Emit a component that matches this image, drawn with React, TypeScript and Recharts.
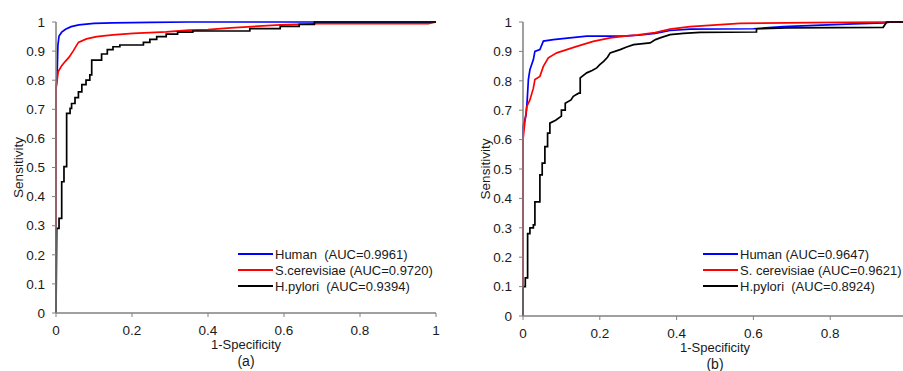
import React from "react";
import { Label, Legend, Line, LineChart, XAxis, YAxis } from "recharts";

// ROC points: [1-specificity, sensitivity]
const humanA = [
  [0, 0], [0, 0.77], [0.003, 0.82], [0.005, 0.92], [0.008, 0.952], [0.015, 0.965],
  [0.025, 0.975], [0.04, 0.984], [0.06, 0.99], [0.1, 0.995], [0.15, 0.997],
  [0.25, 0.999], [0.35, 1], [1, 1],
];
const scerA = [
  [0, 0], [0, 0.77], [0.006, 0.83], [0.015, 0.85], [0.024, 0.864], [0.035, 0.88],
  [0.045, 0.9], [0.059, 0.93], [0.08, 0.942], [0.107, 0.95], [0.15, 0.956],
  [0.203, 0.961], [0.29, 0.966], [0.35, 0.972], [0.4, 0.974], [0.46, 0.98],
  [0.59, 0.99], [0.68, 0.994], [0.98, 0.994], [1, 1],
];
const pyloriA = [
  [0, 0], [0.002, 0.291], [0.008, 0.291], [0.008, 0.325], [0.015, 0.325],
  [0.015, 0.451], [0.021, 0.451], [0.021, 0.503], [0.028, 0.503], [0.028, 0.686],
  [0.037, 0.686], [0.037, 0.703], [0.041, 0.703], [0.041, 0.72], [0.05, 0.72],
  [0.05, 0.74], [0.059, 0.74], [0.059, 0.76], [0.068, 0.76], [0.068, 0.785],
  [0.079, 0.785], [0.079, 0.8], [0.089, 0.8], [0.089, 0.818], [0.094, 0.818],
  [0.094, 0.869], [0.12, 0.869], [0.12, 0.89], [0.135, 0.89], [0.135, 0.905],
  [0.15, 0.905], [0.15, 0.915], [0.168, 0.915], [0.168, 0.921], [0.23, 0.921],
  [0.23, 0.93], [0.247, 0.93], [0.247, 0.94], [0.265, 0.94], [0.265, 0.95],
  [0.29, 0.95], [0.29, 0.958], [0.32, 0.958], [0.32, 0.965], [0.36, 0.965],
  [0.36, 0.969], [0.51, 0.969], [0.51, 0.977], [0.59, 0.977], [0.59, 0.985],
  [0.64, 0.985], [0.64, 0.992], [0.68, 0.992], [0.68, 1], [1, 1],
];

const humanB = [
  [0, 0], [0, 0.644], [0.008, 0.684], [0.011, 0.735], [0.014, 0.804], [0.018, 0.838],
  [0.027, 0.872], [0.031, 0.9], [0.044, 0.906], [0.053, 0.935], [0.079, 0.94],
  [0.122, 0.946], [0.166, 0.952], [0.227, 0.952], [0.27, 0.953], [0.3, 0.955],
  [0.344, 0.961], [0.383, 0.971], [0.435, 0.976], [0.6, 0.977], [0.677, 0.984],
  [0.843, 0.993], [0.94, 0.997], [0.96, 1], [1, 1],
];
const scerB = [
  [0, 0], [0, 0.6], [0.005, 0.66], [0.01, 0.713], [0.018, 0.735], [0.027, 0.775],
  [0.031, 0.804], [0.044, 0.815], [0.053, 0.849], [0.066, 0.878], [0.088, 0.895],
  [0.114, 0.906], [0.14, 0.917], [0.183, 0.934], [0.227, 0.946], [0.27, 0.953],
  [0.3, 0.956], [0.344, 0.964], [0.383, 0.976], [0.435, 0.984], [0.565, 0.995],
  [0.747, 0.998], [0.947, 1], [1, 1],
];
const pyloriB = [
  [0, 0], [0, 0.1], [0.006, 0.1], [0.006, 0.13], [0.012, 0.13], [0.012, 0.28],
  [0.018, 0.28], [0.018, 0.3], [0.027, 0.3], [0.027, 0.31], [0.031, 0.31],
  [0.031, 0.388], [0.044, 0.388], [0.044, 0.48], [0.05, 0.48], [0.05, 0.52],
  [0.057, 0.52], [0.057, 0.576], [0.064, 0.576], [0.064, 0.622], [0.07, 0.622],
  [0.07, 0.656], [0.085, 0.666], [0.1, 0.68], [0.1, 0.7], [0.11, 0.7], [0.11, 0.724],
  [0.125, 0.735], [0.131, 0.747], [0.145, 0.758], [0.149, 0.758], [0.149, 0.81],
  [0.166, 0.827], [0.18, 0.835], [0.192, 0.844], [0.2, 0.855], [0.21, 0.866],
  [0.22, 0.88], [0.227, 0.895], [0.253, 0.906], [0.27, 0.915], [0.288, 0.923],
  [0.331, 0.929], [0.345, 0.94], [0.357, 0.946], [0.383, 0.957], [0.418, 0.961],
  [0.461, 0.965], [0.608, 0.966], [0.608, 0.977], [0.687, 0.98], [0.938, 0.982],
  [0.947, 1], [1, 1],
];

const xTicks = [0, 0.2, 0.4, 0.6, 0.8, 1];
const yTicks = [0, 0.1, 0.2, 0.3, 0.4, 0.5, 0.6, 0.7, 0.8, 0.9, 1];

const legendA = ["Human  (AUC=0.9961)", "S.cerevisiae (AUC=0.9720)", "H.pylori  (AUC=0.9394)"];
const legendB = ["Human (AUC=0.9647)", "S. cerevisiae (AUC=0.9621)", "H.pylori  (AUC=0.8924)"];
const colors = ["#0000ff", "#ff0000", "#000000"];

const font = '"Liberation Sans", Arial, sans-serif';
const axisGray = "#808080";
const ink = "#1a1a1a";
const tickStyle = { fontSize: 13.5, fill: ink, fontFamily: font };

const toPts = (arr: number[][]) => arr.map(([x, y]) => ({ x, y }));

function LegendBox({ labels }: { labels: string[] }) {
  return (
    <div style={{ fontFamily: font, fontSize: 13, color: ink }}>
      {labels.map((l, i) => (
        <div key={l} style={{ display: "flex", alignItems: "center", height: 16 }}>
          <span style={{ width: 35, height: 2, background: colors[i], marginRight: 2 }} />
          <span style={{ whiteSpace: "pre" }}>{l}</span>
        </div>
      ))}
    </div>
  );
}

function RocPanel({
  series,
  labels,
  tag,
  margin,
  legendPos,
}: {
  series: number[][][];
  labels: string[];
  tag: string;
  margin: { top: number; right: number; bottom: number; left: number };
  legendPos: { left: number; top: number };
}) {
  return (
    <LineChart width={460} height={371} margin={margin}>
      <XAxis
        type="number"
        dataKey="x"
        domain={[0, 1]}
        ticks={xTicks}
        height={30}
        tick={tickStyle}
        tickSize={4}
        tickMargin={8}
        axisLine={{ stroke: axisGray, strokeWidth: 1.5 }}
        tickLine={{ stroke: axisGray }}
      >
        <Label value="1-Specificity" position="insideBottom" offset={-6} style={{ fontSize: 13, fill: ink, fontFamily: font }} />
        <Label value={tag} position="bottom" offset={13} style={{ fontSize: 14, fill: ink, fontFamily: font }} />
      </XAxis>
      <YAxis
        type="number"
        domain={[0, 1]}
        ticks={yTicks}
        width={46}
        tick={tickStyle}
        tickSize={4}
        tickMargin={7}
        axisLine={{ stroke: axisGray, strokeWidth: 1.5 }}
        tickLine={{ stroke: axisGray }}
      >
        <Label
          value="Sensitivity"
          angle={-90}
          position="insideLeft"
          offset={8}
          style={{ textAnchor: "middle", fontSize: 13.5, fill: ink, fontFamily: font }}
        />
      </YAxis>
      <Legend
        layout="vertical"
        align="center"
        verticalAlign="middle"
        wrapperStyle={{ left: legendPos.left, top: legendPos.top, width: "auto" }}
        content={() => <LegendBox labels={labels} />}
      />
      {series.map((s, i) => (
        <Line
          key={labels[i]}
          data={toPts(s)}
          dataKey="y"
          type="linear"
          stroke={colors[i]}
          strokeWidth={1.7}
          dot={false}
          isAnimationActive={false}
        />
      ))}
    </LineChart>
  );
}

export default function App() {
  return (
    <div style={{ position: "absolute", left: 0, top: 0, width: 903, height: 371, overflow: "hidden", background: "#fff" }}>
      <div style={{ position: "absolute", left: 0, top: 0 }}>
        <RocPanel
          series={[humanA, scerA, pyloriA]}
          labels={legendA}
          tag="(a)"
          margin={{ top: 22, right: 24, bottom: 28, left: 10 }}
          legendPos={{ left: 238, top: 246 }}
        />
      </div>
      <div style={{ position: "absolute", left: 470, top: 0 }}>
        <RocPanel
          series={[humanB, scerB, pyloriB]}
          labels={legendB}
          tag="(b)"
          margin={{ top: 22, right: 23, bottom: 25, left: 7 }}
          legendPos={{ left: 233, top: 246 }}
        />
      </div>
    </div>
  );
}
